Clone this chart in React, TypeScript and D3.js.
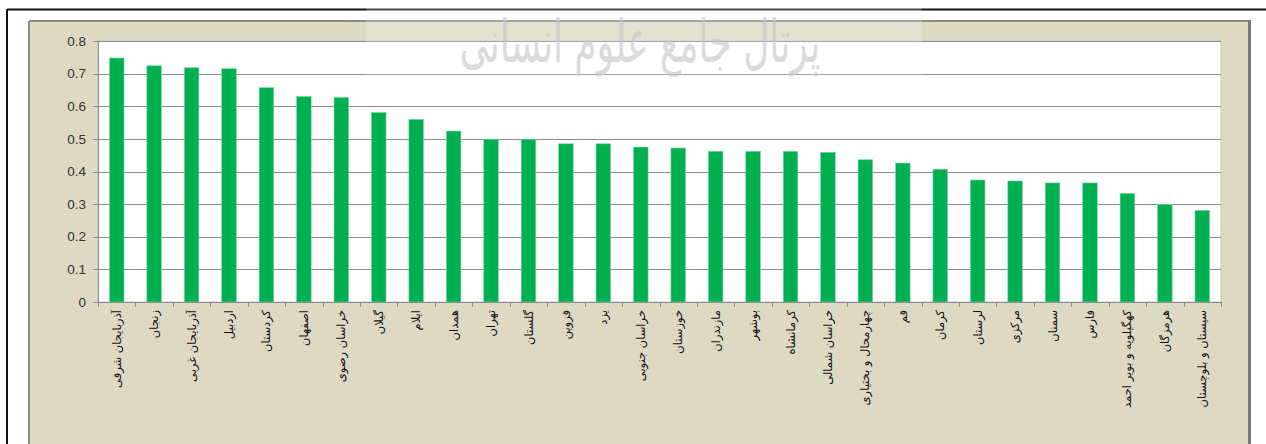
import React from "react";
import * as d3 from "d3";

const provinces: string[] = [
  "آذربایجان شرقی", "زنجان", "آذربایجان غربی", "اردبیل", "کردستان", "اصفهان",
  "خراسان رضوی", "گیلان", "ایلام", "همدان", "تهران", "گلستان", "قزوین", "یزد",
  "خراسان جنوبی", "خوزستان", "مازندران", "بوشهر", "کرمانشاه", "خراسان شمالی",
  "چهارمحال و بختیاری", "قم", "کرمان", "لرستان", "مرکزی", "سمنان", "فارس",
  "کهگیلویه و بویر احمد", "هرمزگان", "سیستان و بلوچستان",
];

const values: number[] = [
  0.748, 0.724, 0.718, 0.715, 0.657, 0.630, 0.627, 0.581, 0.560, 0.524,
  0.499, 0.499, 0.485, 0.485, 0.475, 0.472, 0.462, 0.462, 0.462, 0.459,
  0.436, 0.426, 0.407, 0.374, 0.371, 0.365, 0.365, 0.333, 0.299, 0.281,
];

const yTicks: number[] = [0, 0.1, 0.2, 0.3, 0.4, 0.5, 0.6, 0.7, 0.8];
const watermark = "پرتال جامع علوم انسانی";

const W = 1266;
const H = 444;
const plot = { left: 98, right: 1221, top: 41, bottom: 302 };

export default function App() {
  const x = d3
    .scaleBand<string>()
    .domain(provinces)
    .range([plot.left, plot.right])
    .paddingInner(0.61)
    .paddingOuter(0.305);
  const y = d3.scaleLinear().domain([0, 0.8]).range([plot.bottom, plot.top]);
  const step = x.step();
  const boundaries = d3.range(provinces.length + 1).map((i) => plot.left + i * step);
  const fmt = (v: number) => (v === 0 ? "0" : d3.format(".1f")(v));

  return (
    <>
      <style>{`body{margin:0;} svg{display:block;}`}</style>
      <svg width={W} height={H} viewBox={`0 0 ${W} ${H}`}>
        <rect x={0} y={0} width={W} height={H} fill="#ffffff" />
        {/* outer black frame */}
        <line x1={7} y1={9.5} x2={W} y2={9.5} stroke="#111" strokeWidth={2} />
        <line x1={7} y1={9} x2={7} y2={H} stroke="#111" strokeWidth={2} />
        {/* beige chart area */}
        <rect x={29} y={21} width={1221} height={H} fill="#DDD9C3" />
        <line x1={29} y1={21} x2={1249} y2={21} stroke="#8a8a8a" strokeWidth={2} />
        <line x1={29} y1={21} x2={29} y2={H} stroke="#8a8a8a" strokeWidth={2} />
        <line x1={1249.5} y1={20} x2={1249.5} y2={H} stroke="#7a7a7a" strokeWidth={3} />
        {/* plot area */}
        <rect
          x={plot.left}
          y={plot.top}
          width={plot.right - plot.left}
          height={plot.bottom - plot.top}
          fill="#ffffff"
          stroke="#c8c8c8"
          strokeWidth={1}
        />
        {/* gridlines */}
        {yTicks.map((t) => (
          <line
            key={`g${t}`}
            x1={plot.left - 5}
            x2={plot.right}
            y1={Math.round(y(t)) + 0.5}
            y2={Math.round(y(t)) + 0.5}
            stroke="#8c8c8c"
            strokeWidth={1}
          />
        ))}
        {/* y axis line */}
        <line x1={plot.left + 0.5} x2={plot.left + 0.5} y1={plot.top} y2={plot.bottom} stroke="#8c8c8c" />
        {/* y tick labels */}
        {yTicks.map((t) => (
          <text
            key={`yl${t}`}
            x={86}
            y={y(t)}
            dy="0.35em"
            textAnchor="end"
            fontFamily="'Liberation Sans', Arial, sans-serif"
            fontSize={13.5}
            fill="#333"
          >
            {fmt(t)}
          </text>
        ))}
        {/* x ticks */}
        {boundaries.map((bx, i) => (
          <line
            key={`xt${i}`}
            x1={Math.round(bx) + 0.5}
            x2={Math.round(bx) + 0.5}
            y1={plot.bottom}
            y2={plot.bottom + 5}
            stroke="#8c8c8c"
          />
        ))}
        {/* bars */}
        {provinces.map((p, i) => (
          <rect
            key={`b${i}`}
            x={x(p)!}
            y={y(values[i])}
            width={x.bandwidth()}
            height={y(0) - y(values[i])}
            fill="#00B050"
            stroke="#7fd9a4"
            strokeWidth={0.6}
          />
        ))}
        {/* x axis line */}
        <line x1={plot.left} x2={plot.right} y1={plot.bottom + 0.5} y2={plot.bottom + 0.5} stroke="#8c8c8c" />
        {/* x labels */}
        {provinces.map((p, i) => (
          <text
            key={`xl${i}`}
            transform={`translate(${x(p)! + x.bandwidth() / 2},${plot.bottom + 8}) rotate(-90)`}
            textAnchor="end"
            dy="0.35em"
            fontFamily="'DejaVu Sans', sans-serif"
            fontSize={11.5}
            fill="#111"
          >
            {p}
          </text>
        ))}
        {/* watermark overlay */}
        <rect x={366} y={0} width={556} height={100} fill="#ffffff" opacity={0.22} />
        <text
          x={640}
          y={40}
          textAnchor="middle"
          fontFamily="'DejaVu Sans', sans-serif"
          fontSize={36}
          fill="#c8c8c8"
          opacity={0.65}
          transform="translate(0,-4) scale(1,1.65)"
        >
          {watermark}
        </text>
      </svg>
    </>
  );
}
